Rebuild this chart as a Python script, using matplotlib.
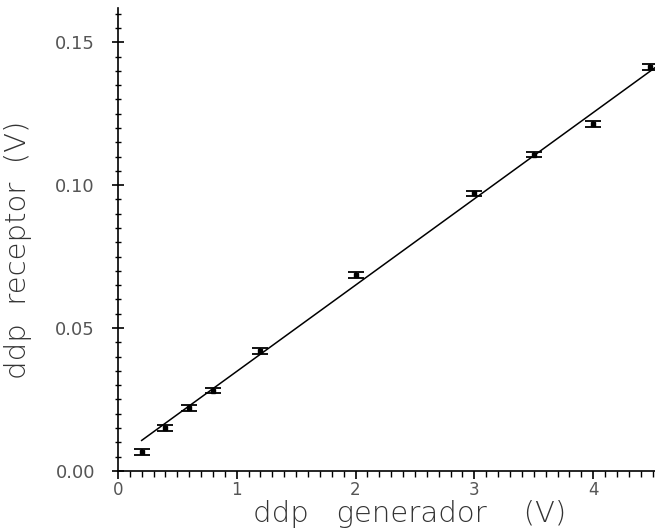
import numpy as np
import matplotlib.pyplot as plt
from matplotlib.ticker import MultipleLocator

# datos medidos
ddp_gen = [0.2, 0.4, 0.6, 0.8, 1.2, 2.0, 3.0, 3.5, 4.0, 4.48]
ddp_rec = [0.0067, 0.0151, 0.0219, 0.0281, 0.0420, 0.0685, 0.0971, 0.1107, 0.1213, 0.1414]
err_rec = [0.001, 0.001, 0.001, 0.001, 0.001, 0.001, 0.001, 0.001, 0.001, 0.001]

# recta de ajuste
pendiente = 0.0302
ordenada = 0.0046
x_ajuste = [0.2, 4.52]

y_ticks = [0.00, 0.05, 0.10, 0.15]
y_labels = ['0.00', '0.05', '0.10', '0.15']
x_ticks = [0, 1, 2, 3, 4]

fig = plt.figure(figsize=(6.55, 5.32), dpi=100)
ax = fig.add_axes([0.180, 0.115, 0.820, 0.870])

xa = np.array(x_ajuste)
ax.plot(xa, pendiente*xa + ordenada, color='k', linewidth=1.1)

ax.errorbar(ddp_gen, ddp_rec, yerr=err_rec, fmt='s', color='k', markersize=3,
            ecolor='k', elinewidth=1.2, capsize=6, capthick=1.3)

ax.set_xlim(0, 4.52)
ax.set_ylim(0, 0.162)

ax.spines['top'].set_visible(False)
ax.spines['right'].set_visible(False)
ax.spines['left'].set_linewidth(1.2)
ax.spines['bottom'].set_linewidth(1.2)

ax.set_yticks(y_ticks)
ax.set_yticklabels(y_labels)
ax.set_xticks(x_ticks)
ax.yaxis.set_minor_locator(MultipleLocator(0.005))
ax.xaxis.set_minor_locator(MultipleLocator(0.1))

ax.tick_params(axis='y', which='major', direction='inout', length=9, width=1.2,
               labelsize=13, labelcolor='#555555', pad=12)
ax.tick_params(axis='y', which='minor', direction='inout', length=5, width=1.0)
ax.tick_params(axis='x', which='major', direction='out', length=6, width=1.2,
               labelsize=12, labelcolor='#555555', pad=1)
ax.tick_params(axis='x', which='minor', direction='out', length=4, width=1.0)

ax.set_xlabel('ddp   generador    (V)', fontsize=21, color='#333333',
              family='DejaVu Sans', fontweight='light')
ax.set_ylabel('ddp  receptor  (V)', fontsize=21, color='#333333',
              family='DejaVu Sans', fontweight='light')
ax.xaxis.set_label_coords(0.544, -0.062)
ax.yaxis.set_label_coords(-0.16, 0.477)

fig.savefig('out.png', dpi=100)
